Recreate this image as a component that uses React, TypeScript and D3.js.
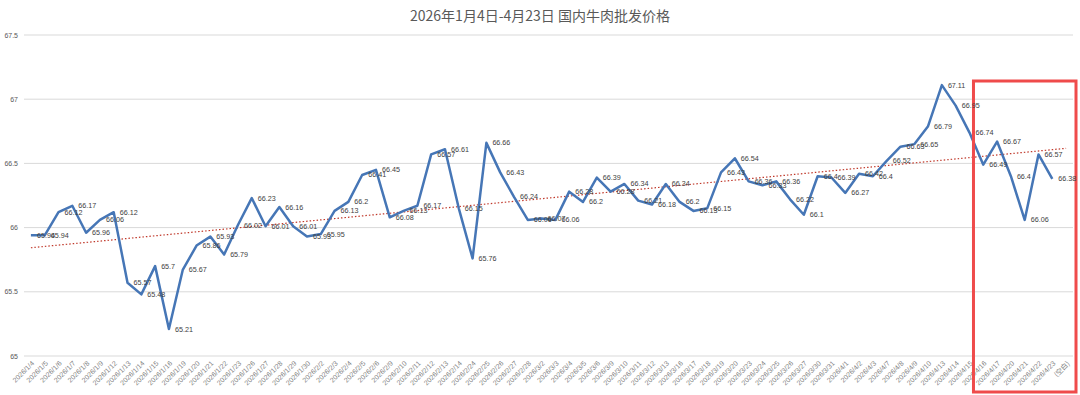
import React from 'react';
import * as d3 from 'd3';

const dates = [
  '2026/1/4', '2026/1/5', '2026/1/6', '2026/1/7', '2026/1/8', '2026/1/9', '2026/1/12', '2026/1/13',
  '2026/1/14', '2026/1/15', '2026/1/16', '2026/1/19', '2026/1/20', '2026/1/21', '2026/1/22', '2026/1/23',
  '2026/1/26', '2026/1/27', '2026/1/28', '2026/1/29', '2026/1/30', '2026/2/2', '2026/2/3', '2026/2/4',
  '2026/2/5', '2026/2/6', '2026/2/9', '2026/2/10', '2026/2/11', '2026/2/12', '2026/2/13', '2026/2/14',
  '2026/2/24', '2026/2/25', '2026/2/26', '2026/2/27', '2026/2/28', '2026/3/2', '2026/3/3', '2026/3/4',
  '2026/3/5', '2026/3/6', '2026/3/9', '2026/3/10', '2026/3/11', '2026/3/12', '2026/3/13', '2026/3/16',
  '2026/3/17', '2026/3/18', '2026/3/19', '2026/3/20', '2026/3/23', '2026/3/24', '2026/3/25', '2026/3/26',
  '2026/3/27', '2026/3/30', '2026/3/31', '2026/4/1', '2026/4/2', '2026/4/3', '2026/4/7', '2026/4/8',
  '2026/4/9', '2026/4/10', '2026/4/13', '2026/4/14', '2026/4/15', '2026/4/16', '2026/4/17', '2026/4/20',
  '2026/4/21', '2026/4/22', '2026/4/23', '(空白)',
];

const prices = [
  65.94, 65.94, 66.12, 66.17, 65.96, 66.06, 66.12, 65.57,
  65.48, 65.7, 65.21, 65.67, 65.86, 65.93, 65.79, 66.02,
  66.23, 66.01, 66.16, 66.01, 65.93, 65.95, 66.13, 66.2,
  66.41, 66.45, 66.08, 66.13, 66.17, 66.57, 66.61, 66.15,
  65.76, 66.66, 66.43, 66.24, 66.06, 66.07, 66.06, 66.28,
  66.2, 66.39, 66.28, 66.34, 66.21, 66.18, 66.34, 66.2,
  66.13, 66.15, 66.43, 66.54, 66.36, 66.33, 66.36, 66.22,
  66.1, 66.4, 66.39, 66.27, 66.42, 66.4, 66.52, 66.63,
  66.65, 66.79, 67.11, 66.95, 66.74, 66.49, 66.67, 66.4,
  66.06, 66.57, 66.38,
];

const yTicks = [65, 65.5, 66, 66.5, 67, 67.5];

const title = '2026年1月4日-4月23日 国内牛肉批发价格';

const W = 1080, H = 395;

export default function App() {
  const x = d3.scaleBand<string>().domain(dates).range([24, 1073]).paddingInner(0).paddingOuter(0);
  const cx = (i: number) => (x(dates[i]) as number) + x.bandwidth() / 2;
  const y = d3.scaleLinear().domain([65, 67.5]).range([356, 35]);

  const pts = prices.map((v, i) => [cx(i), y(v)] as [number, number]);
  const line = d3.line<[number, number]>().x(d => d[0]).y(d => d[1]);

  // linear trend line (least squares), drawn over all categories
  const mx = d3.mean(prices, (_, i) => i) as number;
  const my = d3.mean(prices) as number;
  let sxy = 0, sxx = 0;
  prices.forEach((v, i) => { sxy += (i - mx) * (v - my); sxx += (i - mx) * (i - mx); });
  const slope = sxy / sxx;
  const icpt = my - slope * mx;
  const lastIdx = dates.length - 1;

  const boxL = cx(68) + 4, boxR = 1076;

  return (
    <svg width={W} height={H} style={{ position: 'absolute', left: 0, top: 0, background: '#fff' }}
      fontFamily="'Liberation Sans', Arial, sans-serif">
      <text x={W / 2} y={15} textAnchor="middle" dominantBaseline="central" fontSize={14}
        fill="#595959" fontFamily="'Noto Sans CJK SC', sans-serif">{title}</text>

      {yTicks.map(t => (
        <g key={t}>
          <line x1={24} x2={1073} y1={y(t)} y2={y(t)} stroke="#d9d9d9" strokeWidth={1} />
          <text x={18} y={y(t)} textAnchor="end" dominantBaseline="central" fontSize={7} fill="#595959">{t}</text>
        </g>
      ))}

      {dates.map((d, i) => (
        <text key={d} transform={`translate(${cx(i) + 2},${362}) rotate(-45)`} textAnchor="end"
          dominantBaseline="central" fontSize={7} fill="#7f7f7f"
          fontFamily={i === lastIdx ? "'Noto Sans CJK SC', sans-serif" : undefined}>{d}</text>
      ))}

      <line x1={cx(0)} y1={y(icpt)} x2={cx(lastIdx)} y2={y(icpt + slope * lastIdx)}
        stroke="#c0392b" strokeWidth={1.2} strokeDasharray="1.5 2" />

      <path d={line(pts) as string} fill="none" stroke="#4676b6" strokeWidth={2.5} strokeLinejoin="round" />

      <rect x={boxL} y={81} width={boxR - boxL} height={311} fill="none" stroke="#ef4b4b" strokeWidth={3} />

      {prices.map((v, i) => (
        <text key={i} x={cx(i) + 6} y={y(v)} dominantBaseline="central" fontSize={7.2} fill="#404040">{v}</text>
      ))}
    </svg>
  );
}
